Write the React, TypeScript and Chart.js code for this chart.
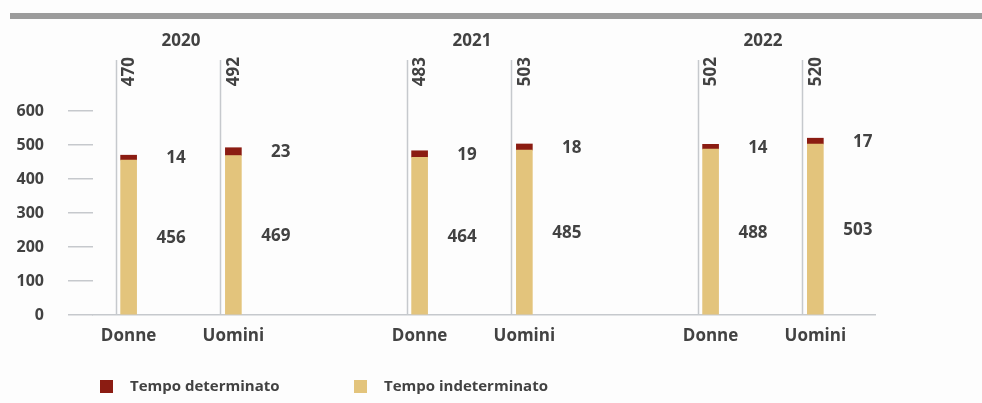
import React, { useEffect, useRef } from 'react';
import { Chart, registerables } from 'chart.js';

Chart.register(...registerables);

// ---- data ----
const years = ['2020', '2021', '2022'];
const genders = ['Donne', 'Uomini'];
// order: 2020 Donne, 2020 Uomini, 2021 Donne, 2021 Uomini, 2022 Donne, 2022 Uomini
const tempoDeterminato = [14, 23, 19, 18, 14, 17];
const tempoIndeterminato = [456, 469, 464, 485, 488, 503];
const yTickValues = [0, 100, 200, 300, 400, 500, 600];
const legendLabels = ['Tempo determinato', 'Tempo indeterminato'];

// ---- style ----
const COLOR_DET = '#8b1c12';
const COLOR_INDET = '#e3c47c';
const GRID = '#c6c9cd';
const TEXT = '#424242';
const FONT = '"Open Sans", Roboto, "DejaVu Sans", sans-serif';
const HALF_GAP = 0.18; // half distance between the paired bars, in year units
const X_MIN = -0.3024;
const X_MAX = 2.385;

const barPositions = years.flatMap((_, yi) =>
  genders.map((__, gi) => yi + (gi === 0 ? -HALF_GAP : HALF_GAP))
);
const yearPositions = years.map((_, yi) => yi);

const decorPlugin = {
  id: 'decor',
  beforeDraw(chart: any) {
    const { ctx, width, height } = chart;
    ctx.save();
    ctx.fillStyle = '#fdfdfd';
    ctx.fillRect(0, 0, width, height);
    ctx.fillStyle = '#9c9c9c';
    ctx.fillRect(10, 13, width - 10, 6);
    ctx.restore();
  },
  beforeDatasetsDraw(chart: any) {
    const { ctx, chartArea } = chart;
    const meta = chart.getDatasetMeta(0);
    ctx.save();
    ctx.strokeStyle = GRID;
    ctx.lineWidth = 1.5;
    meta.data.forEach((el: any) => {
      const x = Math.round(el.x - 13) + 0.5;
      ctx.beginPath();
      ctx.moveTo(x, chartArea.top);
      ctx.lineTo(x, chartArea.bottom);
      ctx.stroke();
    });
    ctx.restore();
  },
  afterDatasetsDraw(chart: any) {
    const { ctx, chartArea } = chart;
    const indetMeta = chart.getDatasetMeta(0);
    const detMeta = chart.getDatasetMeta(1);
    ctx.save();
    ctx.fillStyle = TEXT;
    ctx.font = `700 17px ${FONT}`;
    ctx.textBaseline = 'middle';
    indetMeta.data.forEach((indEl: any, i: number) => {
      const detEl = detMeta.data[i];
      ctx.textAlign = 'right';
      ctx.fillText(String(tempoDeterminato[i]), indEl.x + 57, (detEl.y + detEl.base) / 2 + 1);
      ctx.fillText(String(tempoIndeterminato[i]), indEl.x + 57, (indEl.y + indEl.base) / 2 + 1);
      // rotated totals
      ctx.save();
      ctx.translate(indEl.x + 1, chartArea.top - 3);
      ctx.rotate(-Math.PI / 2);
      ctx.textAlign = 'right';
      ctx.fillText(String(tempoDeterminato[i] + tempoIndeterminato[i]), 0, 0);
      ctx.restore();
    });
    // legend
    const colors = [COLOR_DET, COLOR_INDET];
    const starts = [100, 354];
    ctx.textAlign = 'left';
    ctx.font = `700 15px ${FONT}`;
    legendLabels.forEach((lab, i) => {
      ctx.fillStyle = colors[i];
      ctx.fillRect(starts[i], 380, 13, 13);
      ctx.fillStyle = TEXT;
      ctx.fillText(lab, starts[i] + 30, 387);
    });
    ctx.restore();
  },
};

export default function App() {
  const ref = useRef<HTMLCanvasElement | null>(null);
  useEffect(() => {
    if (!ref.current) return;
    const chart = new Chart(ref.current, {
      type: 'bar',
      data: {
        datasets: [
          {
            label: legendLabels[1],
            data: barPositions.map((x, i) => ({ x, y: tempoIndeterminato[i] })),
            backgroundColor: COLOR_INDET,
            barThickness: 16,
          },
          {
            label: legendLabels[0],
            data: barPositions.map((x, i) => ({ x, y: tempoDeterminato[i] })),
            backgroundColor: COLOR_DET,
            barThickness: 16,
          },
        ],
      },
      options: {
        responsive: false,
        animation: false,
        devicePixelRatio: 1,
        layout: { padding: { left: 0, right: 107, top: 0, bottom: 0 } },
        plugins: { legend: { display: false }, tooltip: { enabled: false } },
        scales: {
          x: {
            type: 'linear',
            position: 'bottom',
            stacked: true,
            offset: false,
            bounds: 'data',
            min: X_MIN,
            max: X_MAX,
            afterBuildTicks: (s: any) => {
              s.ticks = barPositions.map((v) => ({ value: v }));
            },
            afterFit: (s: any) => {
              s.height = 88;
            },
            grid: { display: false, drawTicks: false, offset: false },
            border: { display: true, color: GRID, width: 1.5 },
            ticks: {
              autoSkip: false,
              maxRotation: 0,
              padding: 11,
              color: TEXT,
              font: { family: FONT, size: 17, weight: 700 as any },
              callback: (_v: any, i: number) => genders[i % 2],
            },
          },
          xTop: {
            type: 'linear',
            position: 'top',
            offset: false,
            min: X_MIN,
            max: X_MAX,
            afterBuildTicks: (s: any) => {
              s.ticks = yearPositions.map((v) => ({ value: v }));
            },
            afterFit: (s: any) => {
              s.height = 60;
            },
            grid: { display: false, drawTicks: false, offset: false },
            border: { display: false },
            ticks: {
              autoSkip: false,
              maxRotation: 0,
              padding: 9,
              color: TEXT,
              font: { family: FONT, size: 17, weight: 700 as any },
              callback: (_v: any, i: number) => years[i],
            },
          },
          y: {
            stacked: true,
            min: 0,
            max: 750,
            afterBuildTicks: (s: any) => {
              s.ticks = yTickValues.map((v) => ({ value: v }));
            },
            afterFit: (s: any) => {
              s.width = 93;
            },
            grid: { drawOnChartArea: false, drawTicks: true, tickLength: 25, color: GRID, lineWidth: 1.5 },
            border: { display: false },
            ticks: { padding: 24, color: TEXT, font: { family: FONT, size: 16, weight: 700 as any } },
          },
        },
      } as any,
      plugins: [decorPlugin],
    });
    return () => chart.destroy();
  }, []);
  return (
    <div style={{ position: 'absolute', left: 0, top: 0, width: 982, height: 403, background: '#fdfdfd' }}>
      <canvas ref={ref} width={982} height={403} style={{ display: 'block', width: 982, height: 403 }} />
    </div>
  );
}
